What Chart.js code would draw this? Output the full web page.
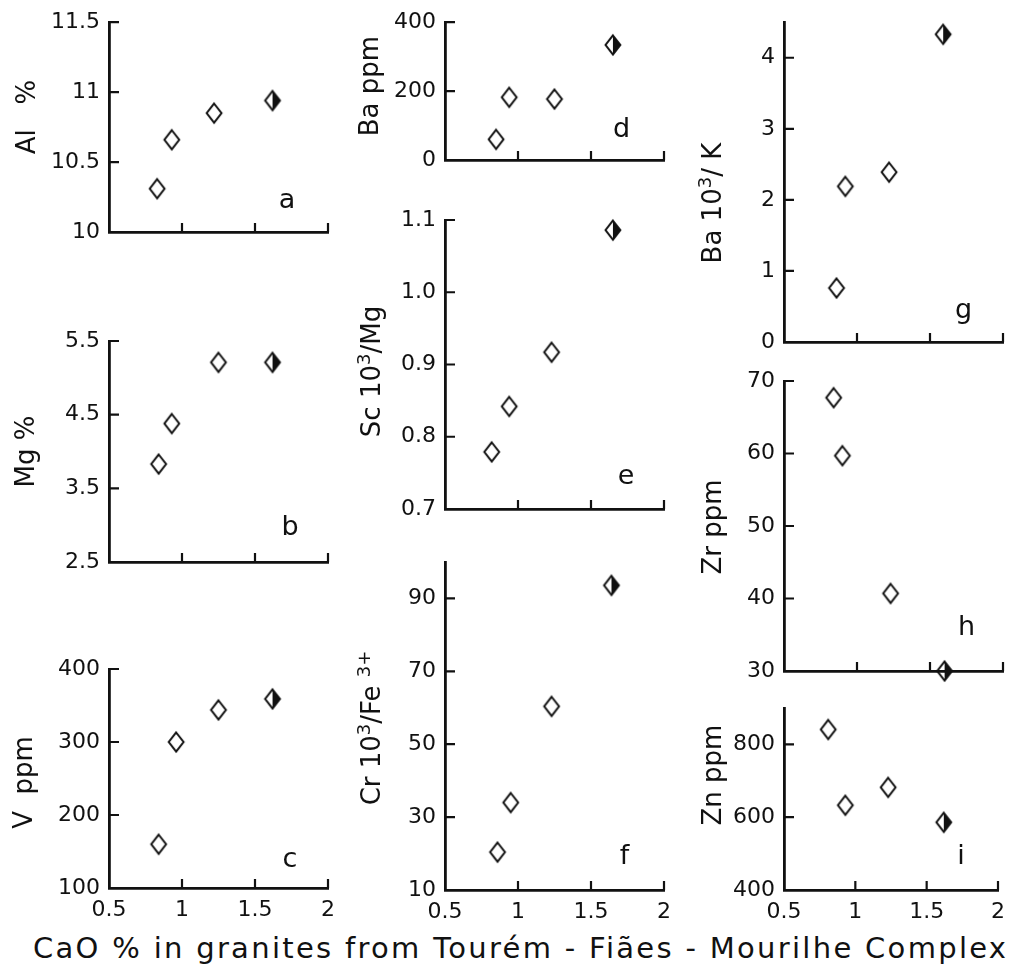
<!DOCTYPE html>
<html>
<head>
<meta charset="utf-8">
<script src="https://cdn.jsdelivr.net/npm/chart.js@4/dist/chart.umd.min.js"></script>
<style>
  html, body { margin: 0; padding: 0; background: #fff; }
  #wrap { position: relative; width: 1014px; height: 969px; overflow: hidden; background: #fff; }
  #wrap canvas { position: absolute; left: 0; top: 0; }
  #caption {
    position: absolute; left: 33px; top: 934px;
    font: 29px "DejaVu Sans", sans-serif; line-height: 1;
    letter-spacing: 2.3px; white-space: nowrap; color: #111;
  }
</style>
</head>
<body>
<div id="wrap">
  <div id="caption">CaO % in granites from Tourém - Fiães - Mourilhe Complex</div>
</div>
<script>
// ---- CaO (%) of the four granite samples, as placed in each panel ----
const caoA = [0.83, 0.93, 1.22, 1.62];
const caoB = [0.84, 0.93, 1.25, 1.62];
const caoC = [0.84, 0.96, 1.25, 1.62];
const caoD = [0.85, 0.94, 1.25, 1.65];
const caoE = [0.82, 0.94, 1.23, 1.65];
const caoF = [0.86, 0.95, 1.23, 1.64];
const caoG = [0.86, 0.92, 1.22, 1.59];
const caoH = [0.84, 0.90, 1.23, 1.60];
const caoI = [0.81, 0.93, 1.23, 1.62];

// ---- element contents and ratios ----
const alPct   = [10.31, 10.66, 10.85, 10.94];
const mgPct   = [3.83, 4.38, 5.21, 5.21];
const vPpm    = [160, 300, 344, 359];
const baPpm   = [60, 182, 177, 334];
const scMg    = [0.779, 0.842, 0.917, 1.086];
const crFe3   = [20.4, 34, 60.4, 93.6];
const baK     = [0.76, 2.19, 2.39, 4.33];
const zrPpm   = [67.7, 59.7, 40.7, 30];
const znPpm   = [841, 633, 682, 586];

// marker kind per sample (the last sample is drawn half-filled)
const sampleMarker = ['open', 'open', 'open', 'half'];

// ---- tick values and tick labels ----
const caoTicks = [0.5, 1, 1.5, 2];
const caoTickLabels = ['0.5', '1', '1.5', '2'];
const alTicks = [10, 10.5, 11, 11.5];       const alTickLabels = ['10', '10.5', '11', '11.5'];
const mgTicks = [2.5, 3.5, 4.5, 5.5];       const mgTickLabels = ['2.5', '3.5', '4.5', '5.5'];
const vTicks  = [100, 200, 300, 400];       const vTickLabels  = ['100', '200', '300', '400'];
const baTicks = [0, 200, 400];              const baTickLabels = ['0', '200', '400'];
const scTicks = [0.7, 0.8, 0.9, 1.0, 1.1];  const scTickLabels = ['0.7', '0.8', '0.9', '1.0', '1.1'];
const crTicks = [10, 30, 50, 70, 90];       const crTickLabels = ['10', '30', '50', '70', '90'];
const bkTicks = [0, 1, 2, 3, 4];            const bkTickLabels = ['0', '1', '2', '3', '4'];
const zrTicks = [30, 40, 50, 60, 70];       const zrTickLabels = ['30', '40', '50', '60', '70'];
const znTicks = [400, 600, 800];            const znTickLabels = ['400', '600', '800'];

// ---- panel layout: plot box in page pixels, axis ranges, titles ----
// Axis titles use ^{...} for superscripts.
const FONT = '"DejaVu Sans", sans-serif';
const PAGE_W = 1014, PAGE_H = 969;
const Y_AXIS_W = 100, X_AXIS_H = 45;

const panels = [
  { xs: caoA, ys: alPct, min: 10,  max: 11.5, ticks: alTicks, labels: alTickLabels, title: 'Al   %',
    box: { L: 109, R: 328, T: 16,  B: 232 }, xLabels: false, titleGap: 83, titleDy: -10, tag: 'a', tagAt: [1.72, 10.22] },
  { xs: caoB, ys: mgPct, min: 2.5, max: 5.5,  ticks: mgTicks, labels: mgTickLabels, title: 'Mg %',
    box: { L: 109, R: 328, T: 341, B: 562 }, xLabels: false, titleGap: 84, titleDy: 0, tag: 'b', tagAt: [1.74, 2.96] },
  { xs: caoC, ys: vPpm,  min: 100, max: 400,  ticks: vTicks,  labels: vTickLabels,  title: 'V  ppm',
    box: { L: 109, R: 328, T: 669, B: 888 }, xLabels: true,  titleGap: 86, titleDy: 4, tag: 'c', tagAt: [1.74, 138] },
  { xs: caoD, ys: baPpm, min: 0,   max: 400,  ticks: baTicks, labels: baTickLabels, title: 'Ba ppm',
    box: { L: 445, R: 664, T: 15,  B: 160 }, xLabels: false, titleGap: 76, titleDy: -5, tag: 'd', tagAt: [1.71, 88] },
  { xs: caoE, ys: scMg,  min: 0.7, max: 1.1,  ticks: scTicks, labels: scTickLabels, title: 'Sc 10^{3}/Mg',
    box: { L: 445, R: 664, T: 220, B: 509 }, xLabels: false, titleGap: 74, titleDy: 7, tag: 'e', tagAt: [1.74, 0.744] },
  { xs: caoF, ys: crFe3, min: 10,  max: 100,  ticks: crTicks, labels: crTickLabels, title: 'Cr 10^{3}/Fe ^{3+}',
    box: { L: 445, R: 664, T: 562, B: 890 }, xLabels: true,  titleGap: 74, titleDy: 2, tag: 'f', tagAt: [1.73, 19] },
  { xs: caoG, ys: baK,   min: 0,   max: 4.5,  ticks: bkTicks, labels: bkTickLabels, title: 'Ba 10^{3}/ K',
    box: { L: 784, R: 1003, T: 16, B: 342 }, xLabels: false, titleGap: 72, titleDy: 21, tag: 'g', tagAt: [1.73, 0.44] },
  { xs: caoH, ys: zrPpm, min: 30,  max: 70,   ticks: zrTicks, labels: zrTickLabels, title: 'Zr ppm',
    box: { L: 784, R: 1003, T: 381, B: 671 }, xLabels: false, titleGap: 72, titleDy: 1, tag: 'h', tagAt: [1.75, 35.9] },
  { xs: caoI, ys: znPpm, min: 400, max: 900,  ticks: znTicks, labels: znTickLabels, title: 'Zn ppm',
    box: { L: 784, R: 1003, T: 708, B: 890 }, xLabels: true,  titleGap: 72, titleDy: -24, tag: 'i', tagAt: [1.74, 490] }
];

// ---- diamond markers drawn once onto small canvases ----
function makeDiamond(half) {
  const c = document.createElement('canvas');
  c.width = 20; c.height = 24;
  const g = c.getContext('2d');
  const top = [10, 2.5], right = [17.4, 12], bottom = [10, 21.5], left = [2.6, 12];
  if (half) {
    g.fillStyle = '#111';
    g.beginPath(); g.moveTo(...top); g.lineTo(...right); g.lineTo(...bottom); g.closePath(); g.fill();
  }
  g.strokeStyle = '#111'; g.lineWidth = 2; g.lineJoin = 'miter';
  g.beginPath(); g.moveTo(...top); g.lineTo(...right); g.lineTo(...bottom); g.lineTo(...left); g.closePath(); g.stroke();
  return c;
}
const markers = { open: makeDiamond(false), half: makeDiamond(true) };

// ---- short tick marks pointing into the plot ----
const inwardTicks = {
  id: 'inwardTicks',
  afterDatasetsDraw(chart) {
    const { ctx, chartArea: a, scales: { x, y } } = chart;
    ctx.save();
    ctx.strokeStyle = '#111';
    ctx.lineWidth = 2.2;
    ctx.beginPath();
    x.ticks.forEach(t => {
      if (t.value === x.min) return;
      const px = x.getPixelForValue(t.value);
      ctx.moveTo(px, a.bottom); ctx.lineTo(px, a.bottom - 9);
    });
    y.ticks.forEach(t => {
      if (t.value === y.min) return;
      const py = y.getPixelForValue(t.value);
      ctx.moveTo(a.left, py); ctx.lineTo(a.left + 10, py);
    });
    ctx.stroke();
    ctx.restore();
  }
};

// split "text^{sup}text" into runs
function parseRuns(s) {
  const runs = [];
  const re = /\^\{([^}]*)\}/g;
  let last = 0, m;
  while ((m = re.exec(s))) {
    if (m.index > last) runs.push({ t: s.slice(last, m.index), sup: false });
    runs.push({ t: m[1], sup: true });
    last = re.lastIndex;
  }
  if (last < s.length) runs.push({ t: s.slice(last), sup: false });
  return runs;
}

// ---- vertical axis title and panel letter ----
const TITLE_SIZE = 26, SUP_SIZE = 18;
const panelText = {
  id: 'panelText',
  afterDraw(chart, args, opts) {
    const { ctx, chartArea: a, scales: { x, y } } = chart;
    ctx.save();
    ctx.fillStyle = '#111';
    ctx.textBaseline = 'alphabetic';
    // axis title, rotated, with raised superscripts
    const runs = parseRuns(opts.title);
    const fontFor = r => (r.sup ? SUP_SIZE : TITLE_SIZE) + 'px ' + FONT;
    let total = 0;
    runs.forEach(r => { ctx.font = fontFor(r); r.w = ctx.measureText(r.t).width; total += r.w; });
    ctx.save();
    ctx.translate(a.left - opts.gap, (a.top + a.bottom) / 2 + opts.dy);
    ctx.rotate(-Math.PI / 2);
    let cx = -total / 2;
    const base = TITLE_SIZE * 0.36;
    runs.forEach(r => {
      ctx.font = fontFor(r);
      ctx.textAlign = 'left';
      ctx.fillText(r.t, cx, r.sup ? base - TITLE_SIZE * 0.4 : base);
      cx += r.w;
    });
    ctx.restore();
    // panel letter placed in data coordinates
    ctx.textAlign = 'center';
    ctx.textBaseline = 'middle';
    ctx.font = '27px ' + FONT;
    ctx.fillText(opts.tag, x.getPixelForValue(opts.tagAt[0]), y.getPixelForValue(opts.tagAt[1]));
    ctx.restore();
  }
};

const wrap = document.getElementById('wrap');

panels.forEach(p => {
  const cv = document.createElement('canvas');
  cv.width = PAGE_W; cv.height = PAGE_H;
  cv.style.width = PAGE_W + 'px'; cv.style.height = PAGE_H + 'px';
  wrap.appendChild(cv);

  const b = p.box;
  new Chart(cv, {
    type: 'scatter',
    data: {
      datasets: [{
        data: p.xs.map((v, i) => ({ x: v, y: p.ys[i] })),
        pointStyle: ctx => markers[sampleMarker[ctx.dataIndex]],
        pointRadius: 9,
        clip: false
      }]
    },
    options: {
      responsive: false,
      animation: false,
      events: [],
      layout: {
        padding: {
          left: b.L - Y_AXIS_W,
          right: PAGE_W - b.R,
          top: b.T,
          bottom: PAGE_H - b.B - X_AXIS_H
        }
      },
      plugins: {
        legend: { display: false },
        tooltip: { enabled: false },
        panelText: { title: p.title, gap: p.titleGap, dy: p.titleDy, tag: p.tag, tagAt: p.tagAt }
      },
      scales: {
        x: {
          type: 'linear',
          min: 0.5, max: 2,
          afterBuildTicks: s => { s.ticks = caoTicks.map(v => ({ value: v })); },
          afterFit: s => { s.height = X_AXIS_H; },
          grid: { display: false, drawTicks: false },
          border: { display: true, color: '#111', width: 2.8 },
          ticks: {
            display: p.xLabels,
            autoSkip: false,
            maxRotation: 0,
            padding: 9,
            color: '#111',
            font: { family: FONT, size: 22 },
            callback: (v, i) => caoTickLabels[i]
          }
        },
        y: {
          type: 'linear',
          min: p.min, max: p.max,
          afterBuildTicks: s => { s.ticks = p.ticks.map(v => ({ value: v })); },
          afterFit: s => { s.width = Y_AXIS_W; },
          grid: { display: false, drawTicks: false },
          border: { display: true, color: '#111', width: 2.8 },
          ticks: {
            autoSkip: false,
            padding: 9,
            color: '#111',
            font: { family: FONT, size: 22 },
            callback: (v, i) => p.labels[i]
          }
        }
      }
    },
    plugins: [inwardTicks, panelText]
  });
});
</script>
</body>
</html>
